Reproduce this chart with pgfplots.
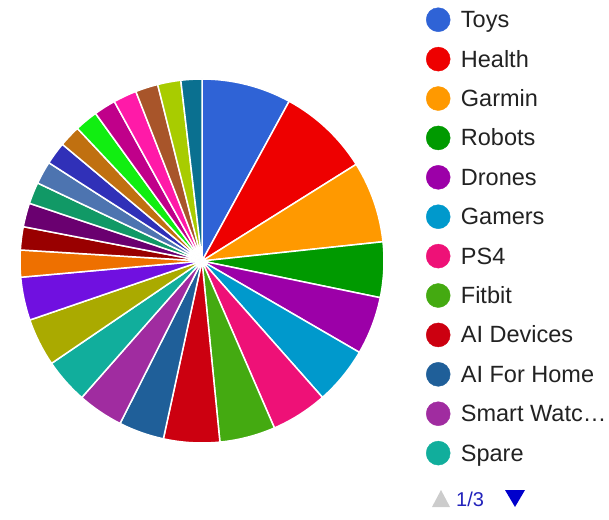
\documentclass[border=0pt]{standalone}
\usepackage{fontspec}
\setmainfont{Liberation Sans}
\usepackage{pgfplots}
\usepackage{pgfplotstable}
\pgfplotsset{compat=1.18}

\definecolor{c1}{HTML}{2F63D6}
\definecolor{c2}{HTML}{EE0000}
\definecolor{c3}{HTML}{FF9900}
\definecolor{c4}{HTML}{009A00}
\definecolor{c5}{HTML}{9C00A8}
\definecolor{c6}{HTML}{0099CC}
\definecolor{c7}{HTML}{EE1177}
\definecolor{c8}{HTML}{44AA11}
\definecolor{c9}{HTML}{CC0010}
\definecolor{c10}{HTML}{1F5F99}
\definecolor{c11}{HTML}{A02CA0}
\definecolor{c12}{HTML}{11AE9C}
\definecolor{c13}{HTML}{AAAA00}
\definecolor{c14}{HTML}{7010E0}
\definecolor{c15}{HTML}{EE7000}
\definecolor{c16}{HTML}{990000}
\definecolor{c17}{HTML}{6A0070}
\definecolor{c18}{HTML}{119966}
\definecolor{c19}{HTML}{4D74B0}
\definecolor{c20}{HTML}{3030B8}
\definecolor{c21}{HTML}{C07010}
\definecolor{c22}{HTML}{11EE11}
\definecolor{c23}{HTML}{C0008A}
\definecolor{c24}{HTML}{FF1AA8}
\definecolor{c25}{HTML}{A8552A}
\definecolor{c26}{HTML}{A8CC00}
\definecolor{c27}{HTML}{0A7090}
\definecolor{textgray}{HTML}{222222}
\definecolor{pagblue}{HTML}{2222BB}
\definecolor{arrowblue}{HTML}{0000CC}
\definecolor{arrowgray}{HTML}{CCCCCC}

\pgfplotstableread[col sep=comma]{
name,value
Toys,28.6
Health,29.3
Garmin,26.0
Robots,17.7
Drones,18.5
Gamers,18.4
PS4,18.0
Fitbit,17.8
AI Devices,17.9
AI For Home,14.5
Smart Watch,14.6
Spare,14.4
Item 13,15.3
Item 14,13.8
Item 15,8.6
Item 16,7.4
Item 17,7.6
Item 18,6.9
Item 19,7.3
Item 20,7.2
Item 21,6.9
Item 22,7.4
Item 23,7.0
Item 24,7.5
Item 25,7.2
Item 26,7.4
Item 27,6.7
}\piedata

\pgfplotsset{dot/.style={legend image code/.code={\fill[#1] (12pt,0pt) circle[radius=12pt];}}}

\begin{document}
\begin{tikzpicture}
\path[use as bounding box] (0pt,0pt) rectangle (609pt,519pt);
\begin{axis}[
  at={(202pt,258pt)}, anchor=center,
  scale only axis, width=364pt, height=364pt,
  xmin=-1, xmax=1, ymin=-1, ymax=1,
  hide axis, clip=false,
  legend cell align=left,
  legend style={at={(axis description cs:1.1154,1.1964)}, anchor=north west,
    draw=none, fill=none, inner sep=0pt, outer sep=0pt,
    row sep=15pt, column sep=10.5pt,
    font=\fontsize{23.5}{27}\selectfont, text=textgray,
    nodes={inner sep=0pt, text height=20pt, text depth=4pt, anchor=west}},
]
\pgfmathsetmacro\total{0}
\pgfplotsforeachungrouped \i in {0,...,26}{%
  \pgfplotstablegetelem{\i}{value}\of\piedata
  \pgfmathsetmacro\total{\total+\pgfplotsretval}%
}
\pgfmathsetmacro\cum{0}
\pgfplotsforeachungrouped \i in {0,...,26}{%
  \pgfplotstablegetelem{\i}{value}\of\piedata
  \let\v=\pgfplotsretval
  \pgfmathsetmacro\a{90-(\cum/\total)*360}%
  \pgfmathsetmacro\cum{\cum+\v}%
  \pgfmathsetmacro\b{90-(\cum/\total)*360}%
  \pgfmathtruncatemacro\k{\i+1}%
  \edef\slice{\noexpand\fill[c\k, draw=white, line width=1.5pt, line join=round] (axis cs:0,0) -- ++(\a:182pt) arc[start angle=\a, end angle=\b, radius=182pt] -- cycle;}%
  \slice
}
\addlegendimage{dot=c1}\addlegendentry{Toys}
\addlegendimage{dot=c2}\addlegendentry{Health}
\addlegendimage{dot=c3}\addlegendentry{Garmin}
\addlegendimage{dot=c4}\addlegendentry{Robots}
\addlegendimage{dot=c5}\addlegendentry{Drones}
\addlegendimage{dot=c6}\addlegendentry{Gamers}
\addlegendimage{dot=c7}\addlegendentry{PS4}
\addlegendimage{dot=c8}\addlegendentry{Fitbit}
\addlegendimage{dot=c9}\addlegendentry{AI Devices}
\addlegendimage{dot=c10}\addlegendentry{AI For Home}
\addlegendimage{dot=c11}\addlegendentry{Smart Watc…}
\addlegendimage{dot=c12}\addlegendentry{Spare}
\end{axis}
\fill[arrowgray] (432pt,12pt) -- (450pt,12pt) -- (441pt,29pt) -- cycle;
\node[anchor=base west, text=pagblue, font=\fontsize{20}{23}\selectfont, inner sep=0pt] at (456pt,13pt) {1/3};
\fill[arrowblue] (505pt,29pt) -- (525pt,29pt) -- (515pt,12pt) -- cycle;
\end{tikzpicture}
\end{document}
